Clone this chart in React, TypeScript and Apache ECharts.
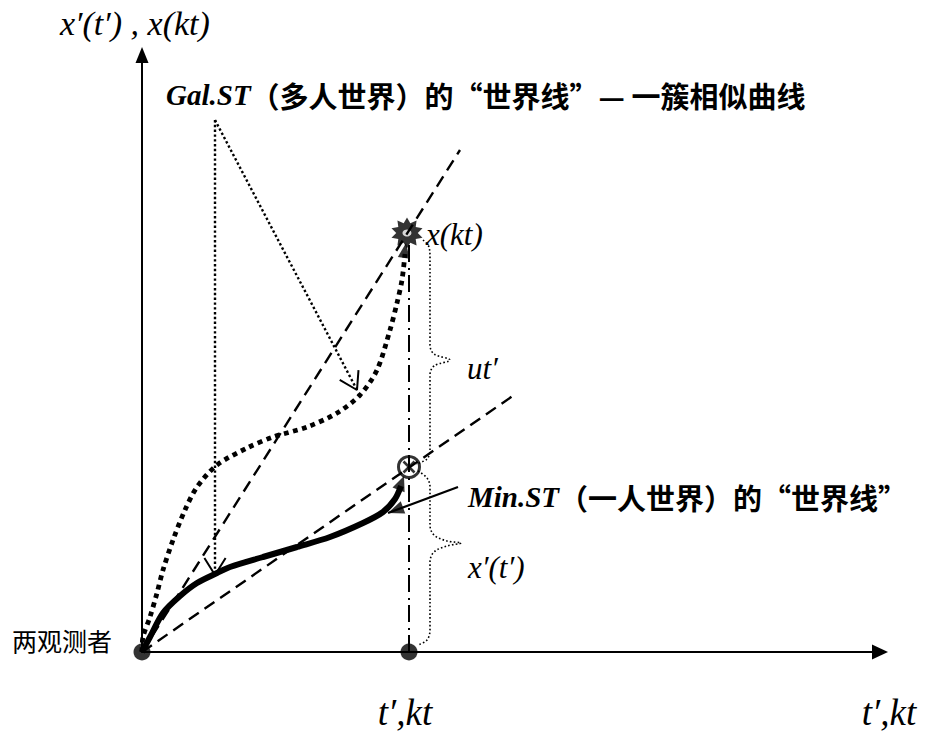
import React, { useEffect, useRef } from "react";
import * as echarts from "echarts";

// Data units are measured from the two observers' origin (bottom-left corner of the axes)
const X_MAX = 738;
const Y_MAX = 597;

const observers: number[][] = [[0, 0], [267, 0]];
const eventMin: number[] = [267, 185];
const eventGal: number[] = [265, 419];

const lightSteep: number[][] = [[0, 0], [318, 502]];
const lightShallow: number[][] = [[0, 0], [375, 259]];
const verticalLine: number[][] = [[267, 0], [267, 407]];

const minST: number[][] = [[0, 0], [8, 15], [21, 39], [38, 56], [55, 69], [75, 79], [88, 85], [121, 95], [155, 105], [188, 115], [221, 129], [241, 140], [253, 153], [259, 166]];
const minSTTip: number[] = [262, 176];
const galST: number[][] = [[0, 0], [1, 15], [8, 35], [15, 59], [21, 82], [31, 112], [43, 142], [55, 165], [75, 187], [105, 204], [131, 215], [165, 225], [195, 239], [218, 257], [235, 282], [248, 322], [255, 349], [260, 372], [263, 398]];
const galSTTip: number[] = [264, 409];

const galAnchor: number[] = [73, 532];
const galPointDown: number[] = [73, 77];
const galPointDiag: number[] = [215, 262];

const minPointerFrom: number[] = [316, 165];
const minPointerTo: number[] = [246, 139];

const braceUt: number[][] = [[281, 412], [287, 405], [288, 394], [288, 307], [292, 298], [308, 292], [292, 286], [288, 277], [288, 202], [285, 193], [274, 188]];
const braceX: number[][] = [[276, 181], [285, 174], [288, 165], [288, 127], [292, 117], [305, 111], [319, 109], [305, 106], [292, 100], [288, 90], [288, 22], [285, 12], [276, 7]];

const axisTitleY = "x′(t′) , x(kt)";
const axisTitleX = "t′,kt";
const tickT = "t′,kt";
const galText = "（多人世界）的“世界线”— 一簇相似曲线";
const minText = "（一人世界）的“世界线”";
const observerText = "两观测者";

const ARROW = "path://M10,0M10,20L20,40L0,40Z";
const CROSS = "path://M0,0L10,10M10,0L0,10";

function starPath(n: number, outer: number, inner: number) {
  let d = "";
  for (let i = 0; i < n * 2; i++) {
    const r = i % 2 === 0 ? outer : inner;
    const a = (Math.PI * i) / n - Math.PI / 2;
    d += (i === 0 ? "M" : "L") + (50 + r * Math.cos(a)).toFixed(2) + "," + (50 + r * Math.sin(a)).toFixed(2);
  }
  return "path://" + d + "Z";
}

function rot(from: number[], to: number[]) {
  return (Math.atan2(-(to[0] - from[0]), to[1] - from[1]) * 180) / Math.PI;
}

// open "V" arrow head built from the pointer's own direction (data units are equal on both axes)
function vHead(from: number[], tip: number[], len = 20, halfDeg = 32) {
  const dx = tip[0] - from[0];
  const dy = tip[1] - from[1];
  const l = Math.hypot(dx, dy);
  const ux = -dx / l;
  const uy = -dy / l;
  const h = (halfDeg * Math.PI) / 180;
  const arm = (s: number) => [
    tip[0] + len * (ux * Math.cos(s * h) - uy * Math.sin(s * h)),
    tip[1] + len * (ux * Math.sin(s * h) + uy * Math.cos(s * h)),
  ];
  return [arm(1), tip, arm(-1)];
}

const serif = "Liberation Serif";
const cjk = "Noto Sans CJK SC";

function lineSeries(data: number[][], width: number, type: any, smooth: any = false) {
  return {
    type: "line",
    data,
    smooth,
    symbol: "none",
    silent: true,
    clip: false,
    lineStyle: { color: "#000", width, type, cap: "butt" },
  };
}

export default function App() {
  const ref = useRef<HTMLDivElement>(null);
  useEffect(() => {
    if (!ref.current) return;
    const chart = echarts.init(ref.current, null, { renderer: "svg" });
    const axisCommon = {
      type: "value",
      axisLabel: { show: false },
      axisTick: { show: false },
      splitLine: { show: false },
    };
    const enStyle = { fontFamily: serif, fontStyle: "italic", fontWeight: "bold", fontSize: 29, fill: "#000", lineHeight: 34 };
    const zhStyle = { fontFamily: cjk, fontWeight: "bold", fontSize: 29, fill: "#000", lineHeight: 34 };
    chart.setOption({
      animation: false,
      backgroundColor: "#fff",
      grid: { left: 142, top: 55, right: 46, bottom: 79 },
      xAxis: {
        ...axisCommon,
        min: 0,
        max: X_MAX,
        axisLine: { show: true, symbol: ["none", "triangle"], symbolSize: [15, 16], lineStyle: { color: "#000", width: 2 } },
      },
      yAxis: {
        ...axisCommon,
        min: 0,
        max: Y_MAX,
        axisLine: { show: true, symbol: ["none", "triangle"], symbolSize: [13, 16], lineStyle: { color: "#000", width: 2 } },
      },
      series: [
        lineSeries(lightSteep, 2.4, [12, 7]),
        lineSeries(lightShallow, 2.4, [12, 7]),
        lineSeries(verticalLine, 2, [17, 5, 2, 6]),
        lineSeries([galAnchor, galPointDown], 2.4, [2.4, 2.4]),
        lineSeries([galAnchor, galPointDiag], 2.4, [2.4, 2.4]),
        lineSeries(vHead(galAnchor, galPointDown), 2, "solid"),
        lineSeries(vHead(galAnchor, galPointDiag), 2, "solid"),
        lineSeries(braceUt, 1.6, [1.6, 2.2], 0.35),
        lineSeries(braceX, 1.6, [1.6, 2.2], 0.35),
        lineSeries(galST, 4.8, [4.8, 4.5], 0.3),
        lineSeries(minST, 6, "solid", 0.3),
        lineSeries([minPointerFrom, minPointerTo], 2.2, "solid"),
        {
          type: "scatter",
          silent: true,
          clip: false,
          data: [
            { value: minSTTip, symbol: ARROW, symbolSize: [13, 30], symbolRotate: rot(minST[minST.length - 2], minSTTip) },
            { value: galSTTip, symbol: ARROW, symbolSize: [12, 30], symbolRotate: rot(galST[galST.length - 3], galSTTip) },
            { value: minPointerTo, symbol: ARROW, symbolSize: [13, 32], symbolRotate: rot(minPointerFrom, minPointerTo) },
          ],
          itemStyle: { color: "#000" },
        },
        {
          type: "scatter",
          silent: true,
          clip: false,
          data: observers,
          symbol: "circle",
          symbolSize: 17,
          itemStyle: { color: "#000" },
        },
        {
          type: "scatter",
          silent: true,
          clip: false,
          data: [eventMin],
          symbol: "circle",
          symbolSize: 21,
          itemStyle: { color: "#fff", borderColor: "#000", borderWidth: 3 },
        },
        {
          type: "scatter",
          silent: true,
          clip: false,
          data: [eventMin],
          symbol: CROSS,
          symbolSize: 11,
          itemStyle: { color: "none", borderColor: "#000", borderWidth: 2.6 },
        },
        {
          type: "scatter",
          silent: true,
          clip: false,
          data: [eventGal],
          symbol: starPath(10, 50, 33),
          symbolSize: 31,
          itemStyle: { color: "#000" },
        },
        {
          type: "scatter",
          silent: true,
          clip: false,
          data: [eventGal],
          symbol: "circle",
          symbolSize: [9, 7],
          itemStyle: { color: "#fff" },
        },
      ],
      graphic: [
        {
          type: "text",
          x: 60,
          y: 23,
          style: { text: axisTitleY, fontFamily: serif, fontStyle: "italic", fontSize: 34, fill: "#000", verticalAlign: "middle" },
        },
        {
          type: "text",
          x: 166,
          y: 95,
          style: { text: "{en|Gal.ST}{zh|" + galText + "}", verticalAlign: "middle", rich: { en: enStyle, zh: zhStyle } },
        },
        {
          type: "text",
          x: 426,
          y: 234,
          style: { text: "x(kt)", fontFamily: serif, fontStyle: "italic", fontSize: 31, fill: "#000", verticalAlign: "middle" },
        },
        {
          type: "text",
          x: 467,
          y: 368,
          style: { text: "ut′", fontFamily: serif, fontStyle: "italic", fontSize: 31, fill: "#000", verticalAlign: "middle" },
        },
        {
          type: "text",
          x: 468,
          y: 497,
          style: { text: "{en|Min.ST}{zh|" + minText + "}", verticalAlign: "middle", rich: { en: enStyle, zh: zhStyle } },
        },
        {
          type: "text",
          x: 468,
          y: 567,
          style: { text: "x′(t′)", fontFamily: serif, fontStyle: "italic", fontSize: 31, fill: "#000", verticalAlign: "middle" },
        },
        {
          type: "text",
          x: 12,
          y: 640,
          style: { text: observerText, fontFamily: cjk, fontWeight: "normal", fontSize: 25, fill: "#000", verticalAlign: "middle" },
        },
        {
          type: "text",
          x: 405,
          y: 712,
          style: { text: tickT, fontFamily: serif, fontStyle: "italic", fontSize: 37, fill: "#000", align: "center", verticalAlign: "middle" },
        },
        {
          type: "text",
          x: 889,
          y: 712,
          style: { text: axisTitleX, fontFamily: serif, fontStyle: "italic", fontSize: 37, fill: "#000", align: "center", verticalAlign: "middle" },
        },
      ],
    });
    return () => chart.dispose();
  }, []);
  return <div ref={ref} style={{ position: "absolute", left: 0, top: 0, width: 926, height: 731 }} />;
}
